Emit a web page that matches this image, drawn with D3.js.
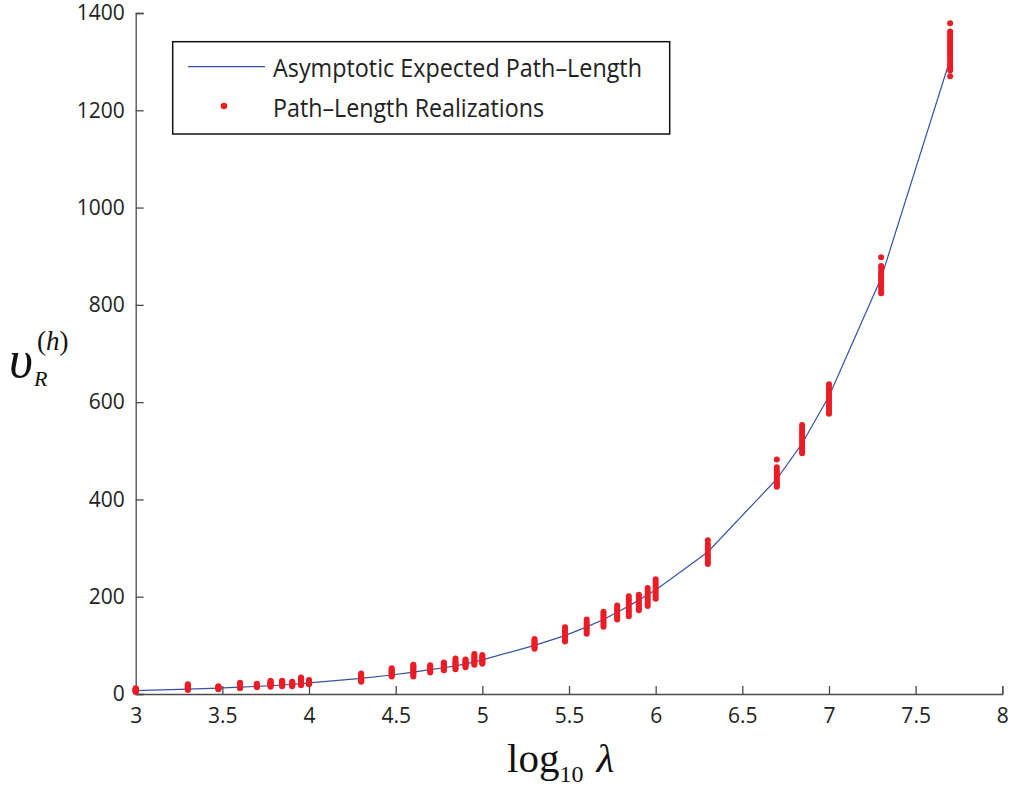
<!DOCTYPE html>
<html>
<head>
<meta charset="utf-8">
<script src="https://cdn.jsdelivr.net/npm/d3@7"></script>
<style>
    body { margin: 0; background: #fff; }
    svg { display: block; }
</style>
</head>
<body>
<script>
document.addEventListener('DOMContentLoaded', function(){

    // log10(lambda) values where the path length was evaluated
    const logLambda = [3, 3.301, 3.477, 3.602, 3.699, 3.778, 3.845, 3.903, 3.954, 4,
                       4.301, 4.477, 4.602, 4.699, 4.778, 4.845, 4.903, 4.954, 5,
                       5.301, 5.477, 5.602, 5.699, 5.778, 5.845, 5.903, 5.954, 6,
                       6.301, 6.699, 6.845, 7, 7.301, 7.699]

    // Asymptotic expected path-length (blue line)
    const expectedLength = [7, 10, 12, 14, 15.5, 17, 18.5, 20, 21.5, 23,
                            32, 39, 45, 50, 54, 58, 62, 66, 70,
                            100, 120, 138, 153, 168, 181, 193, 204, 214,
                            292, 442, 515, 612, 855, 1305]

    // Path-length realizations (red dots), one list per lambda
    const realizations = [
        [4, 5, 6, 7, 7, 8, 8, 9, 10, 11, 12],
        [8, 10, 11, 12, 13, 14, 15, 16, 18, 20],
        [10, 11, 12, 13, 13, 14, 15, 16],
        [12, 13, 15, 16, 17, 18, 19, 21, 23],
        [14, 15, 16, 17, 18, 19, 20, 21],
        [15, 17, 19, 20, 21, 22, 23, 25, 27],
        [16, 18, 19, 21, 22, 23, 24, 26, 27],
        [16, 18, 19, 20, 21, 22, 23, 25],
        [18, 20, 22, 24, 26, 28, 30, 32, 34],
        [20, 21, 22, 23, 24, 25, 26, 27, 29],
        [25, 27, 29, 31, 33, 35, 37, 40, 42],
        [36, 38, 40, 42, 44, 46, 48, 50, 53],
        [36, 39, 42, 45, 48, 51, 54, 57, 60],
        [44, 46, 48, 50, 52, 54, 56, 59],
        [49, 51, 53, 55, 57, 59, 61, 63, 65],
        [51, 54, 57, 60, 63, 66, 69, 73],
        [55, 57, 59, 61, 63, 65, 67, 69, 71],
        [60, 63, 66, 69, 72, 75, 78, 82],
        [62, 64, 66, 68, 70, 72, 74, 77, 80],
        [93, 96, 99, 101, 103, 105, 107, 110, 113],
        [108, 112, 116, 120, 124, 128, 132, 137],
        [124, 128, 132, 136, 140, 144, 148, 153],
        [138, 142, 146, 150, 154, 158, 162, 166, 169],
        [153, 157, 161, 165, 169, 173, 177, 182],
        [160, 165, 170, 175, 180, 185, 190, 195, 201],
        [172, 176, 180, 184, 188, 192, 196, 200, 204],
        [181, 186, 191, 196, 201, 206, 211, 218],
        [196, 201, 206, 211, 216, 221, 226, 231, 236],
        [267, 272, 277, 282, 287, 292, 297, 302, 308, 316],
        [426, 429, 432, 436, 440, 444, 448, 452, 456, 460, 466, 482],
        [495, 500, 505, 510, 515, 520, 525, 530, 536, 542, 548, 553],
        [576, 581, 586, 591, 596, 601, 606, 611, 616, 621, 626, 631, 637],
        [824, 830, 836, 842, 848, 852, 856, 860, 864, 868, 874, 880, 898],
        [1270, 1282, 1288, 1294, 1300, 1305, 1310, 1315, 1320, 1325, 1330, 1335,
         1340, 1345, 1350, 1356, 1362, 1379]
    ]

    const xTicks = [3, 3.5, 4, 4.5, 5, 5.5, 6, 6.5, 7, 7.5, 8]
    const yTicks = [0, 200, 400, 600, 800, 1000, 1200, 1400]
    const legendLabels = ['Asymptotic Expected Path\u2013Length', 'Path\u2013Length Realizations']

    // Size of plot
    const width = 1011
    const height = 788
    const plot = {"left": 135.7, "right": 1002.3, "top": 13, "bottom": 694}

    const lineColor = '#3552a6'
    const dotColor = '#ed1c24'
    const axisColor = '#4a4a4a'
    const tickFont = '"Open Sans", "Noto Sans", sans-serif'

    const svg = d3.select("body")
        .append("svg")
        .attr("width", width)
        .attr("height", height)

    // Scales
    const xScale = d3.scaleLinear()
        .domain([3, 8])
        .range([plot.left, plot.right])

    const yScale = d3.scaleLinear()
        .domain([0, 1400])
        .range([plot.bottom, plot.top])

    // Axes, ticks pointing inward
    svg.append("g")
        .attr("transform", `translate(0, ${plot.bottom})`)
        .call(d3.axisBottom(xScale)
            .tickValues(xTicks)
            .tickSize(-8)
            .tickPadding(14)
            .tickFormat(d3.format("")))

    svg.append("g")
        .attr("transform", `translate(${plot.left}, 0)`)
        .call(d3.axisLeft(yScale)
            .tickValues(yTicks)
            .tickSize(-8)
            .tickPadding(11)
            .tickFormat(d3.format("d")))

    svg.selectAll(".domain, .tick line")
        .attr("stroke", axisColor)
        .attr("stroke-width", 1.3)

    svg.selectAll(".tick text")
        .attr("fill", "#222")
        .style("font-family", tickFont)
        .style("font-size", "21px")

    // Curve
    const line = d3.line()
        .x((d, i) => xScale(logLambda[i]))
        .y(d => yScale(d))

    svg.append("path")
        .datum(expectedLength)
        .attr("d", line)
        .attr("fill", "none")
        .attr("stroke", lineColor)
        .attr("stroke-width", 1.2)

    // Realizations
    const points = realizations.flatMap((vals, i) => vals.map(v => ({x: logLambda[i], y: v})))

    svg.append("g")
        .selectAll("circle")
        .data(points)
        .enter()
        .append("circle")
            .attr("cx", d => xScale(d.x))
            .attr("cy", d => yScale(d.y))
            .attr("r", 3)
            .attr("fill", dotColor)

    // Legend
    const legend = svg.append("g")

    legend.append("rect")
        .attr("x", 172.7)
        .attr("y", 41.7)
        .attr("width", 497)
        .attr("height", 92.3)
        .attr("fill", "#fff")
        .attr("stroke", "#111")
        .attr("stroke-width", 1.5)

    legend.append("line")
        .attr("x1", 188).attr("x2", 265)
        .attr("y1", 66.7).attr("y2", 66.7)
        .attr("stroke", lineColor)
        .attr("stroke-width", 1.2)

    legend.append("circle")
        .attr("cx", 224)
        .attr("cy", 106)
        .attr("r", 3.3)
        .attr("fill", dotColor)

    legend.selectAll("text.legend-label")
        .data(legendLabels)
        .enter()
        .append("text")
            .attr("class", "legend-label")
            .attr("x", 273)
            .attr("y", (d, i) => 77 + i * 40)
            .attr("textLength", (d, i) => i === 0 ? 369 : 271)
            .attr("lengthAdjust", "spacingAndGlyphs")
            .attr("fill", "#222")
            .style("font-family", tickFont)
            .style("font-size", "25.5px")
            .text(d => d)

    // x label: log10 lambda
    const xLabel = svg.append("text")
        .attr("x", 507)
        .attr("y", 772)
        .attr("fill", "#111")
        .style("font-family", '"Liberation Serif", "DejaVu Serif", serif')
        .style("font-size", "41px")

    xLabel.append("tspan").text("log")
    xLabel.append("tspan")
        .attr("dy", 10)
        .style("font-size", "24px")
        .text("10")
    xLabel.append("tspan")
        .attr("dy", -10)
        .attr("dx", 13)
        .style("font-style", "italic")
        .text("\u03bb")

    // y label: upsilon_R^(h)
    const yLabel = svg.append("g")
        .attr("fill", "#111")
        .style("font-family", '"Liberation Serif", "DejaVu Serif", serif')
        .style("font-style", "italic")

    yLabel.append("text")
        .attr("x", 9)
        .attr("y", 377)
        .style("font-size", "52px")
        .text("\u03c5")

    yLabel.append("text")
        .attr("x", 34)
        .attr("y", 386)
        .style("font-size", "22px")
        .text("R")

    const sup = yLabel.append("text")
        .attr("x", 37)
        .attr("y", 350)
        .style("font-size", "27px")

    sup.append("tspan").style("font-style", "normal").text("(")
    sup.append("tspan").text("h")
    sup.append("tspan").style("font-style", "normal").text(")")

});
</script>
</body>
</html>
